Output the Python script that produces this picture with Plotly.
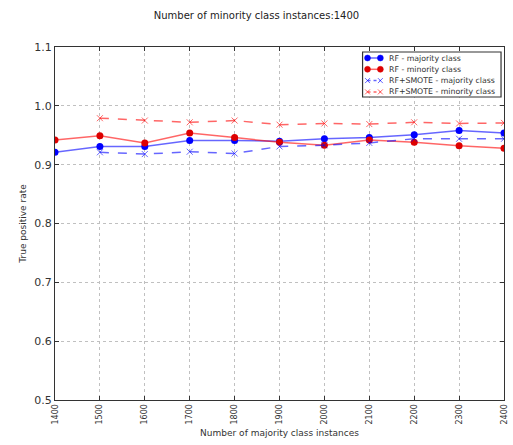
import plotly.graph_objects as go

x_all = [1400, 1500, 1600, 1700, 1800, 1900, 2000, 2100, 2200, 2300, 2400]
x_smote = [1500, 1600, 1700, 1800, 1900, 2000, 2100, 2200, 2300, 2400]

rf_major = [0.921, 0.931, 0.931, 0.941, 0.941, 0.940, 0.944, 0.946, 0.951, 0.958, 0.954]
rf_minor = [0.942, 0.949, 0.937, 0.954, 0.946, 0.938, 0.933, 0.942, 0.938, 0.932, 0.928]
smote_major = [0.921, 0.918, 0.922, 0.919, 0.931, 0.933, 0.937, 0.944, 0.944, 0.944]
smote_minor = [0.979, 0.975, 0.972, 0.975, 0.968, 0.970, 0.969, 0.972, 0.970, 0.971]

x_ticks = [1400, 1500, 1600, 1700, 1800, 1900, 2000, 2100, 2200, 2300, 2400]
y_ticks = [0.5, 0.6, 0.7, 0.8, 0.9, 1.0, 1.1]

legend_names = ["RF - majority class", "RF - minority class",
                "RF+SMOTE - majority class", "RF+SMOTE - minority class"]

W, H = 513, 445
ML, MR, MT, MB = 55, 4, 47, 45
PW, PH = W - ML - MR, H - MT - MB

def px(xp):
    return (xp - ML) / PW

def py(yp):
    return 1 - (yp - MT) / PH

BLUE_L = "rgba(0,0,255,0.6)"
RED_L = "rgba(255,0,0,0.6)"
BLUE_M = "#0000ff"
RED_M = "#dd0000"

fig = go.Figure()
fig.add_trace(go.Scatter(
    x=x_all, y=rf_major, name=legend_names[0], mode="lines+markers",
    line=dict(color=BLUE_L, width=1.5),
    marker=dict(color=BLUE_M, size=7, symbol="circle")))
fig.add_trace(go.Scatter(
    x=x_all, y=rf_minor, name=legend_names[1], mode="lines+markers",
    line=dict(color=RED_L, width=1.5),
    marker=dict(color=RED_M, size=7, symbol="circle")))
fig.add_trace(go.Scatter(
    x=x_smote, y=smote_major, name=legend_names[2], mode="lines+markers",
    line=dict(color=BLUE_L, width=1.5, dash="dash"),
    marker=dict(color=BLUE_L, size=6, symbol="x-thin",
                line=dict(color=BLUE_L, width=1))))
fig.add_trace(go.Scatter(
    x=x_smote, y=smote_minor, name=legend_names[3], mode="lines+markers",
    line=dict(color=RED_L, width=1.5, dash="dash"),
    marker=dict(color=RED_L, size=6, symbol="x-thin",
                line=dict(color=RED_L, width=1))))

# custom compact legend (matplotlib-like)
shapes = []
annotations = []
shapes.append(dict(type="rect", xref="paper", yref="paper",
                   x0=px(366), x1=px(506), y0=py(97), y1=py(52),
                   fillcolor="white", line=dict(color="#333333", width=1.2), layer="above"))
styles = [
    (BLUE_L, "solid", BLUE_M, "circle"),
    (RED_L, "solid", RED_M, "circle"),
    (BLUE_L, "dash", BLUE_L, "x"),
    (RED_L, "dash", RED_L, "x"),
]
for i, (name, (lc, dash, mc, sym)) in enumerate(zip(legend_names, styles)):
    yc = 58 + i * 11.3
    shapes.append(dict(type="line", xref="paper", yref="paper",
                       x0=px(371), x1=px(384), y0=py(yc), y1=py(yc),
                       line=dict(color=lc, width=1.5, dash="dot" if dash == "dash" else "solid"),
                       layer="above"))
    for xm in (371, 384):
        if sym == "circle":
            r = 3
            shapes.append(dict(type="circle", xref="paper", yref="paper",
                               x0=px(xm - r), x1=px(xm + r), y0=py(yc + r), y1=py(yc - r),
                               fillcolor=mc, line=dict(color=mc, width=0.5), layer="above"))
        else:
            r = 2.5
            shapes.append(dict(type="line", xref="paper", yref="paper",
                               x0=px(xm - r), x1=px(xm + r), y0=py(yc + r), y1=py(yc - r),
                               line=dict(color=mc, width=1), layer="above"))
            shapes.append(dict(type="line", xref="paper", yref="paper",
                               x0=px(xm - r), x1=px(xm + r), y0=py(yc - r), y1=py(yc + r),
                               line=dict(color=mc, width=1), layer="above"))
    annotations.append(dict(xref="paper", yref="paper", x=px(391), y=py(yc),
                            xanchor="left", yanchor="middle", showarrow=False,
                            text=name, font=dict(family="DejaVu Sans", size=7.8, color="#333333")))

axis_common = dict(
    showline=True, linecolor="#333333", linewidth=1, mirror="allticks",
    ticks="inside", ticklen=4, tickcolor="#333333",
    showgrid=True, gridcolor="#c0c0c0", griddash="dot", gridwidth=1,
    zeroline=False, ticklabeloverflow="allow",
)

fig.update_layout(
    width=W, height=H,
    margin=dict(l=ML, r=MR, t=MT, b=MB),
    paper_bgcolor="white", plot_bgcolor="white",
    showlegend=False,
    title=dict(text="Number of minority class instances:1400", x=0.5, xanchor="center",
               y=1 - 15/445, yanchor="middle",
               font=dict(family="DejaVu Sans", size=10, color="#222222")),
    xaxis=dict(range=[1400, 2400], tickvals=x_ticks, ticktext=[str(v) for v in x_ticks],
               tickangle=-90,
               tickfont=dict(family="DejaVu Sans", size=8, color="#333333"),
               title=dict(text="Number of majority class instances", standoff=6,
                          font=dict(family="DejaVu Sans", size=9, color="#333333")),
               **axis_common),
    yaxis=dict(range=[0.5, 1.1], tickvals=y_ticks, ticktext=[f"{v:.1f}" for v in y_ticks],
               tickfont=dict(family="DejaVu Sans", size=11, color="#333333"),
               title=dict(text="True positive rate", standoff=6,
                          font=dict(family="DejaVu Sans", size=9, color="#333333")),
               **axis_common),
    shapes=shapes,
    annotations=annotations,
)

fig.write_html("out.html")
